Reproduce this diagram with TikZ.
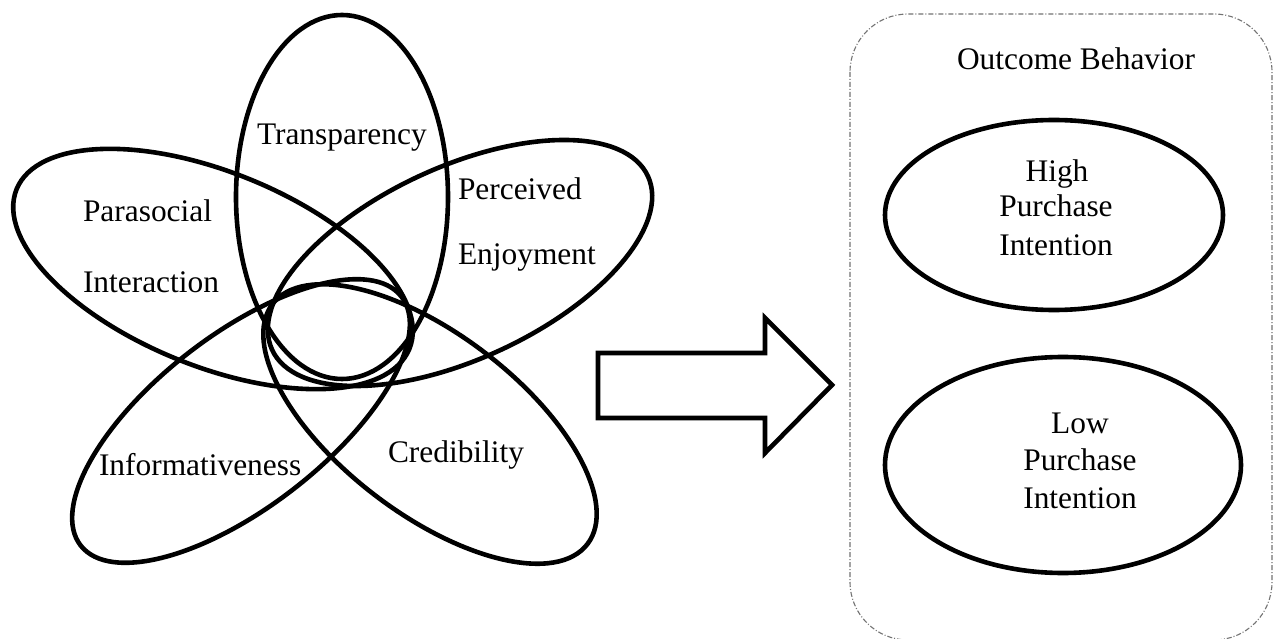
\documentclass[tikz,border=0pt]{standalone}
\usepackage{fontspec}
\setmainfont{Liberation Serif}
\begin{document}
\begin{tikzpicture}[x=1pt,y=1pt,
  petal/.style={draw=black,line width=4.6pt},
  outc/.style={draw=black,line width=4.6pt},
  lbl/.style={inner sep=0pt,outer sep=0pt,font=\fontsize{31.4}{37}\selectfont},
  blockarrow/.style={draw=black,fill=white,line width=4.6pt,line join=miter},
  frame/.style={draw=black!55,line width=1.1pt,dash pattern=on 5pt off 2pt on 1pt off 2pt,rounded corners=58pt}]
\useasboundingbox (0,0) rectangle (1280,-639);
\fill[white] (0,0) rectangle (1280,-639);
% petals
\draw[petal] (342,-197) ellipse [x radius=106, y radius=182];
\draw[petal, rotate around={-22.1:(213,-269)}] (213,-269) ellipse [x radius=212, y radius=97];
\draw[petal, rotate around={24.8:(460,-263)}] (460,-263) ellipse [x radius=207, y radius=96];
\draw[petal, rotate around={37.8:(241,-421)}] (241,-421) ellipse [x radius=203, y radius=86];
\draw[petal, rotate around={-37.3:(430,-424)}] (430,-424) ellipse [x radius=198, y radius=90];
% petal labels
\node[lbl,anchor=base west] (tr) at (257,-145) {Transparency};
\node[lbl,anchor=base west] (pa) at (83,-222) {Parasocial};
\node[lbl,anchor=base west] (in) at (83,-292) {Interaction};
\node[lbl,anchor=base west] (pe) at (458,-200) {Perceived};
\node[lbl,anchor=base west] (en) at (458,-265) {Enjoyment};
\node[lbl,anchor=base west] (inf) at (99,-475) {Informativeness};
\node[lbl,anchor=base west] (cr) at (388,-462) {Credibility};
% block arrow
\coordinate (a1) at (598,-353);
\coordinate (a2) at (765,-353);
\coordinate (a3) at (765,-318);
\coordinate (a4) at (832,-385);
\coordinate (a5) at (765,-453);
\coordinate (a6) at (765,-418);
\coordinate (a7) at (598,-418);
\draw[blockarrow] (a1) -- (a2) -- (a3) -- (a4) -- (a5) -- (a6) -- (a7) -- cycle;
% outcome frame
\draw[frame] (850,-14) rectangle (1272,-640);
\node[lbl,anchor=base west] (ob) at (957,-70) {Outcome Behavior};
% outcome ellipses
\draw[outc] (1054,-215) ellipse [x radius=169, y radius=95];
\draw[outc] (1063,-465) ellipse [x radius=178, y radius=108];
\node[lbl,anchor=base] (h1) at (1057,-182) {High};
\node[lbl,anchor=base] (h2) at (1056,-217) {Purchase};
\node[lbl,anchor=base] (h3) at (1056,-255) {Intention};
\node[lbl,anchor=base] (l1) at (1080,-433) {Low};
\node[lbl,anchor=base] (l2) at (1080,-470) {Purchase};
\node[lbl,anchor=base] (l3) at (1080,-508) {Intention};
\end{tikzpicture}
\end{document}
